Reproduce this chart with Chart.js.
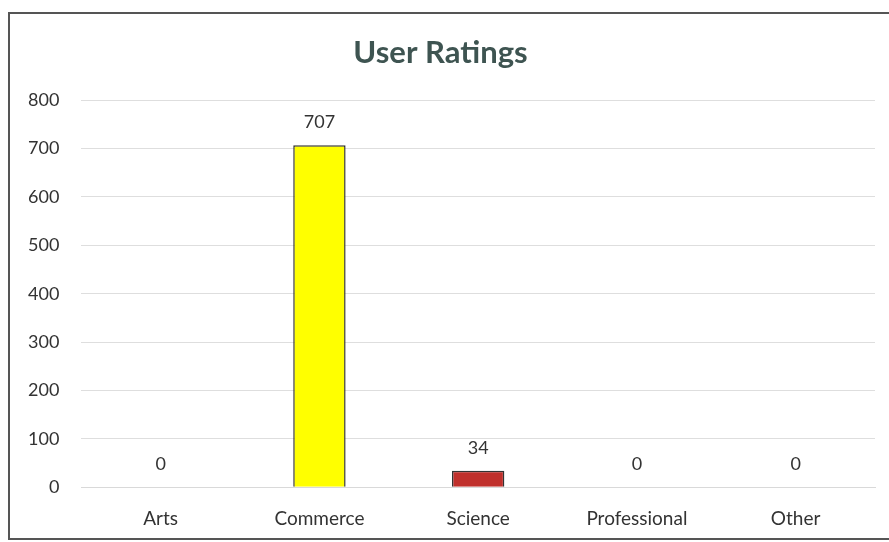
<!DOCTYPE html>
<html>
<head>
<meta charset="utf-8">
<script src="https://cdn.jsdelivr.net/npm/chart.js@4/dist/chart.umd.min.js"></script>
<style>
  html, body { margin: 0; padding: 0; background: #fff; }
  #wrap { position: relative; width: 889px; height: 542px; overflow: hidden; }
  #frame { position: absolute; left: 8px; top: 12px; width: 900px; height: 528px; border: 2px solid #555; box-sizing: border-box; pointer-events: none; }
  canvas { position: absolute; left: 0; top: 0; }
</style>
</head>
<body>
<div id="wrap">
  <canvas id="c" width="889" height="542"></canvas>
  <div id="frame"></div>
</div>
<script>
const categories = ['Arts', 'Commerce', 'Science', 'Professional', 'Other'];
const ratings = [0, 707, 34, 0, 0];
const barColors = ['#ffff00', '#ffff00', '#c0302c', '#ffff00', '#ffff00'];
const yTicks = [0, 100, 200, 300, 400, 500, 600, 700, 800];

const FONT = "Lato, 'Open Sans', sans-serif";
const TC = '#333';

// value labels above each bar
const valueLabels = {
  id: 'vl',
  afterDatasetsDraw(ch) {
    const c = ch.ctx, meta = ch.getDatasetMeta(0);
    c.save();
    c.font = '18px ' + FONT;
    c.fillStyle = TC;
    c.textAlign = 'center';
    c.textBaseline = 'bottom';
    meta.data.forEach((b, i) => {
      c.fillText(String(ratings[i]), b.x, b.y - 14);
    });
    c.restore();
  }
};

new Chart(document.getElementById('c'), {
  type: 'bar',
  plugins: [valueLabels],
  data: {
    labels: categories,
    datasets: [{
      data: ratings,
      backgroundColor: barColors,
      borderColor: '#333',
      borderWidth: ratings.map(v => v > 0 ? 1.5 : 0),
      barPercentage: 0.33,
      categoryPercentage: 1
    }]
  },
  options: {
    responsive: false,
    animation: false,
    layout: { padding: { left: 6, right: 14, top: 28, bottom: 0 } },
    scales: {
      x: {
        grid: { display: false },
        border: { color: '#d9d9d9' },
        ticks: { color: TC, font: { family: FONT, size: 19 }, padding: 12 }
      },
      y: {
        min: 0, max: 800,
        afterBuildTicks(ax) { ax.ticks = yTicks.map(v => ({ value: v })); },
        grid: { color: '#dedede', drawTicks: false },
        border: { display: false },
        ticks: { color: TC, font: { family: FONT, size: 18 }, padding: 22 }
      }
    },
    plugins: {
      legend: { display: false },
      tooltip: { enabled: false },
      title: {
        display: true,
        text: 'User Ratings',
        color: '#3e5451',
        font: { family: FONT, size: 31, weight: 'bold' },
        padding: { top: 6, bottom: 29 }
      }
    }
  }
});
</script>
</body>
</html>
